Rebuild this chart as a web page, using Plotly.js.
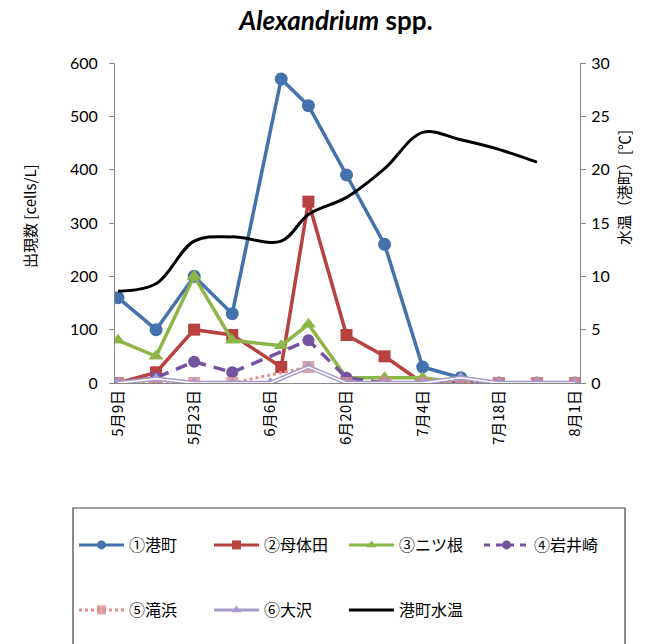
<!DOCTYPE html>
<html>
<head>
<meta charset="utf-8">
<script src="https://cdn.plot.ly/plotly-3.0.1.min.js"></script>
<style>html,body{margin:0;padding:0;background:#fff;}#chart{width:672px;height:644px;}</style>
</head>
<body>
<div id="chart"></div>
<script>
// sampling dates
const datesA = ['2013-05-09','2013-05-16','2013-05-23','2013-05-30','2013-06-08','2013-06-13','2013-06-20','2013-06-27','2013-07-04','2013-07-11','2013-07-18','2013-07-25','2013-08-01'];
const datesB = ['2013-05-09','2013-05-16','2013-05-23','2013-05-30','2013-06-13','2013-06-20','2013-06-27','2013-07-04','2013-07-11','2013-07-18','2013-07-25','2013-08-01'];
const datesC = ['2013-05-09','2013-05-16','2013-05-23','2013-05-30','2013-06-06','2013-06-13','2013-06-20','2013-06-27','2013-07-04','2013-07-11','2013-07-18','2013-07-25','2013-08-01'];
const datesT = ['2013-05-09','2013-05-16','2013-05-23','2013-05-30','2013-06-08','2013-06-13','2013-06-20','2013-06-27','2013-07-04','2013-07-11','2013-07-18','2013-07-25'];

// cells/L
const minatomachi = [160, 100, 200, 130, 570, 520, 390, 260, 30, 10, 0, 0, 0];
const botaida     = [0, 20, 100, 90, 30, 340, 90, 50, 0, 0, 0, 0, 0];
const futatsune   = [80, 50, 200, 80, 70, 110, 10, 10, 10, 0, 0, 0, 0];
const iwaizaki    = [0, 10, 40, 20, 80, 10, 0, 0, 0, 0, 0, 0];
const takihama    = [0, 0, 0, 0, 30, 0, 0, 0, 0, 0, 0, 0];
const osawa       = [0, 8, 0, 0, 0, 30, 0, 0, 0, 10, 0, 0, 0];
// water temperature (°C)
const waterTemp   = [8.6, 9.3, 13.3, 13.7, 13.3, 15.8, 17.4, 20.1, 23.5, 22.8, 21.9, 20.7];

const names = ['①港町','②母体田','③ニツ根','④岩井崎','⑤滝浜','⑥大沢','港町水温'];
const tickVals = ['2013-05-09','2013-05-23','2013-06-06','2013-06-20','2013-07-04','2013-07-18','2013-08-01'];
const tickText = ['5月9日','5月23日','6月6日','6月20日','7月4日','7月18日','8月1日'];

const FONT = "Lato, 'Noto Sans CJK JP', sans-serif";
const JFONT = "'Noto Sans CJK JP', Lato, sans-serif";

const C = {blue: '#4372AC', red: '#B8423F', green: '#8DB548', purple: '#7453A0',
           pink: '#E0908E', pinkM: 'rgba(220,140,140,0.8)', lav: '#A89BCB', black: '#000000'};

const traces = [
  {x: datesA, y: minatomachi, name: names[0], mode: 'lines+markers', showlegend: false,
   line: {color: C.blue, width: 3.5}, marker: {symbol: 'circle', size: 13, color: C.blue}},
  {x: datesA, y: botaida, name: names[1], mode: 'lines+markers', showlegend: false,
   line: {color: C.red, width: 3.5}, marker: {symbol: 'square', size: 12, color: C.red}},
  {x: datesA, y: futatsune, name: names[2], mode: 'lines+markers', showlegend: false,
   line: {color: C.green, width: 3.5}, marker: {symbol: 'triangle-up', size: 13, color: C.green}},
  {x: datesB, y: iwaizaki, name: names[3], mode: 'lines+markers', showlegend: false,
   line: {color: C.purple, width: 3.5, dash: '12px,8px'}, marker: {symbol: 'circle', size: 12, color: C.purple}},
  {x: datesB, y: takihama, name: names[4], mode: 'lines+markers', showlegend: false,
   line: {color: C.pink, width: 3, dash: 'dot'}, marker: {symbol: 'square', size: 12, color: C.pinkM}},
  {x: datesC, y: osawa, name: names[5], mode: 'lines+markers', showlegend: false,
   line: {color: C.lav, width: 4.5}, marker: {symbol: 'triangle-up', size: 12, color: C.lav}},
  {x: datesC, y: osawa, name: names[5] + '_inner', mode: 'lines', showlegend: false, hoverinfo: 'skip',
   line: {color: '#FFFFFF', width: 1.5}},
  {x: datesT, y: waterTemp, name: names[6], mode: 'lines', yaxis: 'y2', showlegend: false,
   line: {color: C.black, width: 3, shape: 'spline', smoothing: 1}}
];

// legend keys (no plotted marks)
const keys = [
  {n: 0, lg: 'legend', line: {color: C.blue, width: 3}, marker: {symbol: 'circle', size: 9, color: C.blue}},
  {n: 1, lg: 'legend', line: {color: C.red, width: 3}, marker: {symbol: 'square', size: 9, color: C.red}},
  {n: 2, lg: 'legend', line: {color: C.green, width: 3}, marker: {symbol: 'triangle-up', size: 9, color: C.green}},
  {n: 3, lg: 'legend', line: {color: C.purple, width: 3, dash: '6px,6px'}, marker: {symbol: 'circle', size: 9, color: C.purple}},
  {n: 4, lg: 'legend2', line: {color: C.pink, width: 3, dash: 'dot'}, marker: {symbol: 'square', size: 9, color: C.pinkM}},
  {n: 5, lg: 'legend2', line: {color: C.lav, width: 3}, marker: {symbol: 'triangle-up', size: 9, color: C.lav}},
  {n: 6, lg: 'legend2', line: {color: C.black, width: 3}, marker: null}
];
keys.forEach(k => {
  const t = {x: [null], y: [null], name: names[k.n], legend: k.lg, mode: k.marker ? 'lines+markers' : 'lines',
             line: k.line, hoverinfo: 'skip'};
  if (k.marker) t.marker = k.marker;
  traces.push(t);
});

const plotL = 115, plotR = 580, plotT = 63, plotB = 383;
const pw = plotR - plotL, ph = plotB - plotT;
const px2x = p => (p - plotL) / pw;
const py2y = p => (plotB - p) / ph;

const legendBase = {orientation: 'h', xanchor: 'left', yanchor: 'top',
  entrywidth: 75, entrywidthmode: 'pixels', itemwidth: 45, bgcolor: 'rgba(0,0,0,0)',
  font: {family: JFONT, size: 16}, traceorder: 'normal', itemclick: false};

const layout = {
  width: 672, height: 644, autosize: false,
  margin: {l: plotL, r: 672 - plotR, t: plotT, b: 644 - plotB, pad: 0},
  paper_bgcolor: '#ffffff', plot_bgcolor: '#ffffff',
  font: {family: FONT, size: 16, color: '#000'},
  title: {text: '<b><i>Alexandrium</i> spp.</b>', x: 0.5, xanchor: 'center', y: 0.967, yanchor: 'middle',
          font: {family: FONT, size: 26, color: '#000'}},
  xaxis: {type: 'date', range: ['2013-05-08 10:50', '2013-08-01 22:00'],
          tickmode: 'array', tickvals: tickVals, ticktext: tickText, tickangle: -90,
          showgrid: false, zeroline: false, showline: true, linecolor: '#868686', linewidth: 1,
          ticks: '', tickfont: {family: JFONT, size: 15, color: '#000'}},
  yaxis: {range: [0, 600], dtick: 100, showgrid: false, zeroline: false,
          showline: true, linecolor: '#868686', linewidth: 1, ticks: 'outside', ticklen: 5, tickcolor: '#868686',
          ticklabelstandoff: 8, tickfont: {family: FONT, size: 16}},
  yaxis2: {range: [0, 30], dtick: 5, overlaying: 'y', side: 'right', showgrid: false, zeroline: false,
           showline: true, linecolor: '#868686', linewidth: 1, ticks: 'outside', ticklen: 5, tickcolor: '#868686',
           ticklabelstandoff: 2, tickfont: {family: FONT, size: 16}},
  legend: Object.assign({}, legendBase, {x: px2x(74), y: py2y(528)}),
  legend2: Object.assign({}, legendBase, {x: px2x(74), y: py2y(593)}),
  annotations: [
    {text: '出現数 [cells/L]', xref: 'paper', yref: 'paper', x: px2x(29), y: py2y(216), textangle: -90,
     showarrow: false, xanchor: 'center', yanchor: 'middle', font: {family: JFONT, size: 15, color: '#000'}},
    {text: '水温（港町）[℃]', xref: 'paper', yref: 'paper', x: px2x(623), y: py2y(188), textangle: -90,
     showarrow: false, xanchor: 'center', yanchor: 'middle', font: {family: JFONT, size: 15, color: '#000'}}
  ],
  shapes: [{type: 'rect', xref: 'paper', yref: 'paper', x0: px2x(73), x1: px2x(625), y0: py2y(700), y1: py2y(508),
            line: {color: '#404040', width: 1.2}, fillcolor: 'rgba(0,0,0,0)'}],
  showlegend: true
};

Plotly.newPlot('chart', traces, layout, {staticPlot: true, displayModeBar: false});
</script>
</body>
</html>
